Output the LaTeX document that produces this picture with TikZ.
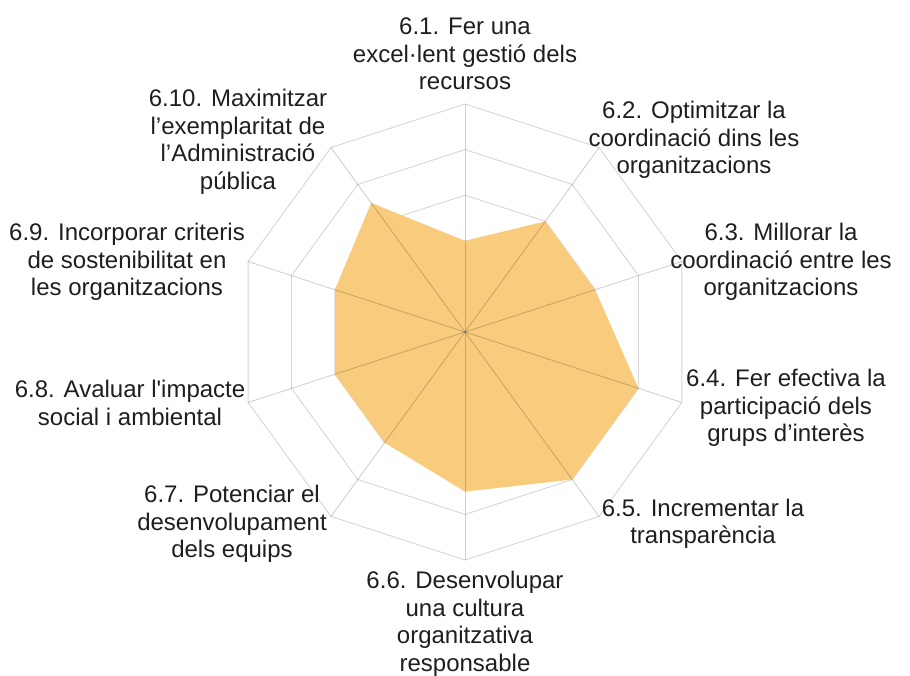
\documentclass[tikz,border=0pt]{standalone}
\usepackage{fontspec}
\newfontfamily\labelfont{Liberation Sans}
\usepackage{tikz}

\definecolor{radarfill}{RGB}{248,203,125}
\definecolor{gridgray}{RGB}{214,214,214}
\definecolor{labeltext}{RGB}{30,30,30}

\begin{document}
\begin{tikzpicture}[x=1pt,y=1pt,
  ring/.style={draw=gridgray,line width=0.9pt},
  spoke/.style={draw=black,opacity=0.18,line width=0.9pt},
  axislabel/.style={align=center,text=labeltext,inner sep=0pt,
    font=\labelfont\fontsize{24}{27.5}\selectfont}]
\useasboundingbox (0,0) rectangle (910,676);

\begin{scope}[shift={(465,344)}]
% rings, 5 levels
\foreach \r in {45.6,91.2,136.8,182.4,228}
  \draw[ring] (90:\r) -- (54:\r) -- (18:\r) -- (-18:\r) -- (-54:\r) -- (-90:\r)
    -- (-126:\r) -- (-162:\r) -- (162:\r) -- (126:\r) -- cycle;
% values
\fill[radarfill] (90:91.2) -- (54:136.8) -- (18:136.8) -- (-18:182.4) -- (-54:182.4)
  -- (-90:159.6) -- (-126:136.8) -- (-162:136.8) -- (162:136.8) -- (126:159.6) -- cycle;
% spokes
\foreach \a in {90,54,...,-234}
  \draw[spoke] (0,0) -- (\a:228);
\fill[gray] (0,0) circle (1.5);
\end{scope}

\node[axislabel] (l1) at (465,622) {6.1. Fer una\\excel·lent gestió dels\\recursos};
\node[axislabel] (l2) at (694,536) {6.2. Optimitzar la\\coordinació dins les\\organitzacions};
\node[axislabel] (l3) at (781,414) {6.3. Millorar la\\coordinació entre les\\organitzacions};
\node[axislabel] (l4) at (786,268) {6.4. Fer efectiva la\\participació dels\\grups d’interès};
\node[axislabel] (l5) at (703,152) {6.5. Incrementar la\\transparència};
\node[axislabel] (l6) at (465,52) {6.6. Desenvolupar\\una cultura\\organitzativa\\responsable};
\node[axislabel] (l7) at (232,152) {6.7. Potenciar el\\desenvolupament\\dels equips};
\node[axislabel] (l8) at (130,273) {6.8. Avaluar l'impacte\\social i ambiental};
\node[axislabel] (l9) at (127,414) {6.9. Incorporar criteris\\de sostenibilitat en\\les organitzacions};
\node[axislabel] (l10) at (238,534) {6.10. Maximitzar\\l’exemplaritat de\\l’Administració\\pública};
\end{tikzpicture}
\end{document}
